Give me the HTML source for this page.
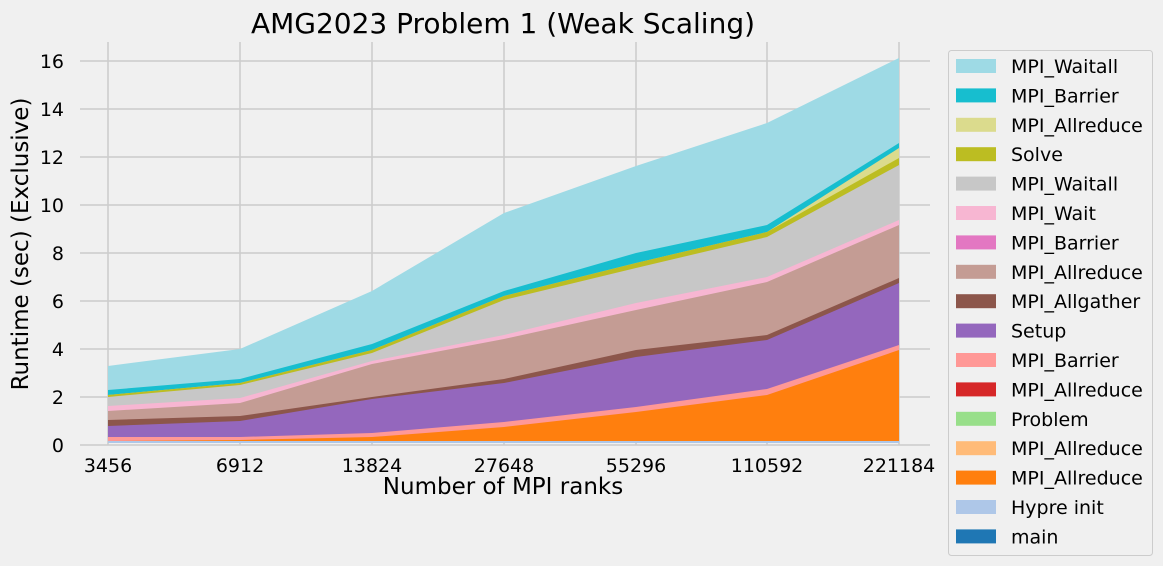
<!DOCTYPE html>
<html><head><style>
body{margin:0;background:#f0f0f0;}
svg{display:block;font-family:"DejaVu Sans","Liberation Sans",sans-serif;}
</style></head><body>
<svg width="1163" height="566" viewBox="0 0 1163 566">
<rect width="1163" height="566" fill="#f0f0f0"/>
<g stroke="#cbcbcb" stroke-width="1.5">
<line x1="80" x2="930" y1="445" y2="445"/><line x1="80" x2="930" y1="397" y2="397"/><line x1="80" x2="930" y1="349" y2="349"/><line x1="80" x2="930" y1="301" y2="301"/><line x1="80" x2="930" y1="253" y2="253"/><line x1="80" x2="930" y1="205" y2="205"/><line x1="80" x2="930" y1="157" y2="157"/><line x1="80" x2="930" y1="109" y2="109"/><line x1="80" x2="930" y1="61" y2="61"/>
<line x1="108" x2="108" y1="42" y2="445"/><line x1="240" x2="240" y1="42" y2="445"/><line x1="372" x2="372" y1="42" y2="445"/><line x1="504" x2="504" y1="42" y2="445"/><line x1="636" x2="636" y1="42" y2="445"/><line x1="767" x2="767" y1="42" y2="445"/><line x1="899" x2="899" y1="42" y2="445"/>
</g>
<g>
<polygon fill="#9edae5" points="108,442 108,366 240,349 372,291 504,213 636,166 767,123 899,58 899,442"/>
<polygon fill="#17becf" points="108,442 108,390 240,379 372,344 504,291 636,253 767,225 899,143 899,442"/>
<polygon fill="#dbdb8d" points="108,442 108,395 240,383 372,350 504,296 636,263 767,232 899,148 899,442"/>
<polygon fill="#bcbd22" points="108,442 108,395 240,383 372,350 504,296 636,263 767,232 899,158 899,442"/>
<polygon fill="#c7c7c7" points="108,442 108,397 240,385 372,353 504,300 636,268 767,237 899,165 899,442"/>
<polygon fill="#f7b6d2" points="108,442 108,406 240,398 372,361 504,335 636,303 767,277 899,220 899,442"/>
<polygon fill="#c49c94" points="108,442 108,411 240,403 372,364 504,339 636,310 767,282 899,225 899,442"/>
<polygon fill="#8c564b" points="108,442 108,420 240,416 372,397 504,379 636,350 767,335 899,278 899,442"/>
<polygon fill="#9467bd" points="108,442 108,426 240,421 372,399 504,383 636,357 767,340 899,283 899,442"/>
<polygon fill="#ff9896" points="108,442 108,437 240,437 372,433 504,422 636,407 767,389 899,345 899,442"/>
<polygon fill="#ff7f0e" points="108,442 108,441 240,440 372,437 504,427 636,412 767,395 899,350 899,442"/>
<rect x="108" y="441" width="791" height="2" fill="#aec7e8"/>
</g>
<text x="503" y="33" font-size="28" text-anchor="middle" fill="#000">AMG2023 Problem 1 (Weak Scaling)</text>
<g font-size="19" fill="#000" text-anchor="end">
<text x="64" y="452">0</text><text x="64" y="404">2</text><text x="64" y="356">4</text><text x="64" y="308">6</text><text x="64" y="260">8</text><text x="64" y="212">10</text><text x="64" y="164">12</text><text x="64" y="116">14</text><text x="64" y="68">16</text>
</g>
<g font-size="19" fill="#000" text-anchor="middle">
<text x="108" y="472">3456</text><text x="240" y="472">6912</text><text x="372" y="472">13824</text><text x="504" y="472">27648</text><text x="636" y="472">55296</text><text x="767" y="472">110592</text><text x="899" y="472">221184</text>
</g>
<text x="503" y="494" font-size="23" text-anchor="middle">Number of MPI ranks</text>
<text transform="translate(28,244) rotate(-90)" font-size="23" text-anchor="middle">Runtime (sec) (Exclusive)</text>
<rect x="948.5" y="50.5" width="204" height="505" rx="3" fill="#f0f0f0" stroke="#cccccc"/>
<g font-size="19" fill="#000">
<rect x="956" y="59" width="40" height="14" fill="#9edae5"/><text x="1011" y="73">MPI_Waitall</text>
<rect x="956" y="88.4" width="40" height="14" fill="#17becf"/><text x="1011" y="102.4">MPI_Barrier</text>
<rect x="956" y="117.8" width="40" height="14" fill="#dbdb8d"/><text x="1011" y="131.8">MPI_Allreduce</text>
<rect x="956" y="147.2" width="40" height="14" fill="#bcbd22"/><text x="1011" y="161.2">Solve</text>
<rect x="956" y="176.6" width="40" height="14" fill="#c7c7c7"/><text x="1011" y="190.6">MPI_Waitall</text>
<rect x="956" y="206" width="40" height="14" fill="#f7b6d2"/><text x="1011" y="220">MPI_Wait</text>
<rect x="956" y="235.4" width="40" height="14" fill="#e377c2"/><text x="1011" y="249.4">MPI_Barrier</text>
<rect x="956" y="264.8" width="40" height="14" fill="#c49c94"/><text x="1011" y="278.8">MPI_Allreduce</text>
<rect x="956" y="294.2" width="40" height="14" fill="#8c564b"/><text x="1011" y="308.2">MPI_Allgather</text>
<rect x="956" y="323.6" width="40" height="14" fill="#9467bd"/><text x="1011" y="337.6">Setup</text>
<rect x="956" y="353" width="40" height="14" fill="#ff9896"/><text x="1011" y="367">MPI_Barrier</text>
<rect x="956" y="382.4" width="40" height="14" fill="#d62728"/><text x="1011" y="396.4">MPI_Allreduce</text>
<rect x="956" y="411.8" width="40" height="14" fill="#98df8a"/><text x="1011" y="425.8">Problem</text>
<rect x="956" y="441.2" width="40" height="14" fill="#ffbb78"/><text x="1011" y="455.2">MPI_Allreduce</text>
<rect x="956" y="470.6" width="40" height="14" fill="#ff7f0e"/><text x="1011" y="484.6">MPI_Allreduce</text>
<rect x="956" y="500" width="40" height="14" fill="#aec7e8"/><text x="1011" y="514">Hypre init</text>
<rect x="956" y="529.4" width="40" height="14" fill="#1f77b4"/><text x="1011" y="543.4">main</text>
</g>
</svg>
</body></html>
